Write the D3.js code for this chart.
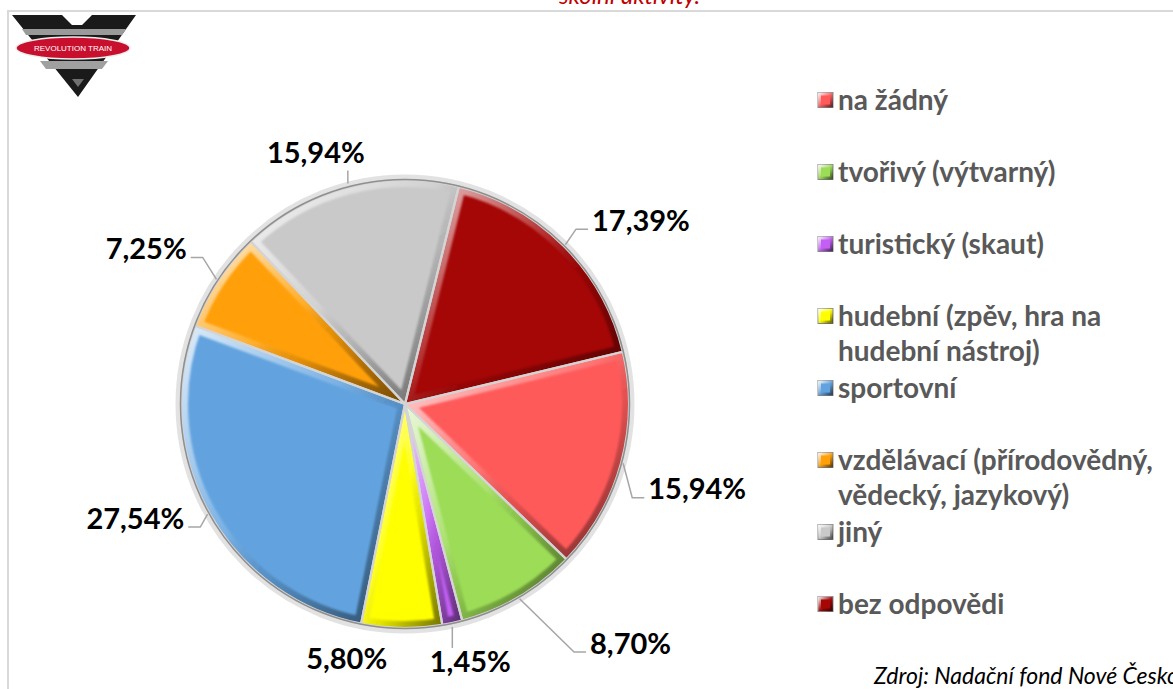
<!DOCTYPE html>
<html><head><meta charset="utf-8">
<script src="https://cdn.jsdelivr.net/npm/d3@7"></script>
<style>body{margin:0;background:#fff;overflow:hidden}svg{display:block}</style>
</head><body>
<svg id="c" width="1173" height="689"></svg>
<script>
// ---- data ----
const categories = ["na žádný","tvořivý (výtvarný)","turistický (skaut)","hudební (zpěv, hra na hudební nástroj)","sportovní","vzdělávací (přírodovědný, vědecký, jazykový)","jiný","bez odpovědi"];
const values = [15.94, 8.70, 1.45, 5.80, 27.54, 7.25, 15.94, 17.39];
const colors = ["#ff5a5a","#9cdc56","#c35ff4","#ffff00","#62a3df","#ffa00a","#c9c9c9","#a50606"];
const titleText = "školní aktivity.";
const sourceText = "Zdroj: Nadační fond Nové Česko";
const logoText = "REVOLUTION TRAIN";

// ---- layout ----
const W = 1173, H = 689;
const cx = 405, cy = 404, R = 224;
const firstSliceAngle = 76.5; // degrees, clockwise from 12 o'clock
// label offsets relative to the slice's outer mid-point, plus leader style
const labelLayout = [
  {dx:76, dy:26, leader:"h"},
  {dx:112, dy:46, leader:"h"},
  {dx:18, dy:39, leader:"v"},
  {dx:-55, dy:31, leader:"none"},
  {dx:-74, dy:5, leader:"h"},
  {dx:-72, dy:-32, leader:"h"},
  {dx:-32, dy:-35, leader:"v"},
  {dx:77, dy:-26, leader:"h"}
];

const svg = d3.select("#c");
const defs = svg.append("defs");

// bevel gradient
const bev = defs.append("linearGradient").attr("id","bevel").attr("x1",0).attr("y1",0).attr("x2",1).attr("y2",1);
bev.append("stop").attr("offset","0%").attr("stop-color","#fff").attr("stop-opacity",0.8);
bev.append("stop").attr("offset","45%").attr("stop-color","#fff").attr("stop-opacity",0.15);
bev.append("stop").attr("offset","60%").attr("stop-color","#000").attr("stop-opacity",0.1);
bev.append("stop").attr("offset","100%").attr("stop-color","#000").attr("stop-opacity",0.55);
defs.append("filter").attr("id","soft").append("feGaussianBlur").attr("stdDeviation",1.2);

// frame
svg.append("path").attr("d",`M8,${H+5} L8,11 L${W+5},11`).attr("fill","none").attr("stroke","#d9d9d9").attr("stroke-width",2);

// title (cut off at top, as in the reference)
svg.append("text").attr("x",700).attr("y",4).attr("text-anchor","end")
  .attr("font-family","Lato, 'Open Sans', sans-serif").attr("font-style","italic")
  .attr("font-size",24).attr("fill","#c00000").text(titleText);

// logo
const logo = svg.append("g").attr("transform","translate(12,15)");
logo.append("path").attr("d","M0,0 L50,0 L60,10 L70,10 L80,0 L124,0 L66,82 Z").attr("fill","#1a1a1a");
logo.append("path").attr("d","M10,14 L114,14 L110,20 L14,20 Z").attr("fill","#9a9a9a");
logo.append("path").attr("d","M28,46 L96,46 L90,54 L34,54 Z").attr("fill","#a0a0a0");
logo.append("path").attr("d","M60,64 L66,72 L72,64 Z").attr("fill","#707070");
logo.append("ellipse").attr("cx",61).attr("cy",33).attr("rx",57).attr("ry",11).attr("fill","#c8102e").attr("stroke","#eee").attr("stroke-width",1.5);
logo.append("text").attr("x",61).attr("y",36).attr("text-anchor","middle").attr("font-family","'Liberation Sans', sans-serif").attr("font-size",8).attr("fill","#fff").text(logoText);

// pie
const pie = d3.pie().sort(null).value(d=>d)
  .startAngle(firstSliceAngle*Math.PI/180).endAngle(firstSliceAngle*Math.PI/180 + 2*Math.PI);
const arcs = pie(values);
const arc = d3.arc().innerRadius(0).outerRadius(R);
const g = svg.append("g").attr("transform",`translate(${cx},${cy})`);

g.append("circle").attr("r",R+3).attr("fill","none").attr("stroke","#e2e2e2").attr("stroke-width",5);

arcs.forEach((a,i)=>{
  const id = "clip"+i;
  defs.append("clipPath").attr("id",id).append("path").attr("d",arc(a)).attr("transform",`translate(${cx},${cy})`);
  const sg = svg.append("g").attr("clip-path",`url(#${id})`).append("g").attr("transform",`translate(${cx},${cy})`);
  sg.append("path").attr("d",arc(a)).attr("fill",colors[i]);
  sg.append("path").attr("d",arc(a)).attr("fill","none").attr("stroke","url(#bevel)").attr("stroke-width",14).attr("filter","url(#soft)");
});
// separators & outline
const og = svg.append("g").attr("transform",`translate(${cx},${cy})`);
og.selectAll("path.sep").data(arcs).join("path").attr("class","sep").attr("d",arc)
  .attr("fill","none").attr("stroke","#d4d4d4").attr("stroke-width",2.2).attr("stroke-linejoin","round");
og.append("circle").attr("r",R+0.5).attr("fill","none").attr("stroke","#8f8f8f").attr("stroke-width",1.5);

// data labels
const fmt = v => d3.format(".2f")(v).replace(".",",") + "%";
const lg = svg.append("g");
arcs.forEach((a,i)=>{
  const mid = (a.startAngle + a.endAngle)/2;
  const px = cx + R*Math.sin(mid), py = cy - R*Math.cos(mid);
  const L = labelLayout[i];
  const lx = px + L.dx, ly = py + L.dy;
  const t = lg.append("text").attr("x",lx).attr("y",ly).attr("dy","0.36em").attr("text-anchor","middle")
    .attr("font-family","Lato, sans-serif").attr("font-weight",700).attr("font-size",29).attr("fill","#000").text(fmt(values[i]));
  const w = t.node().getComputedTextLength();
  let pts = null;
  if (L.leader === "h") {
    const side = L.dx > 0 ? 1 : -1;
    const ax = lx - side*(w/2 + 4), ay = ly + 9;
    pts = [[px + 2*Math.sin(mid), py - 2*Math.cos(mid)],[ax - side*12, ay],[ax, ay]];
  } else if (L.leader === "v") {
    const down = L.dy > 0;
    const sx = px, sy = py + (down ? 4 : -4);
    pts = [[sx, sy],[sx, down ? ly - 14 : ly + 18]];
  }
  if (pts) lg.append("path").attr("d",d3.line()(pts)).attr("fill","none").attr("stroke","#a6a6a6").attr("stroke-width",1.5);
});

// legend
const ly0 = d3.scaleLinear().domain([0,1]).range([100,172]);
const leg = svg.append("g");
const maxW = 328;
categories.forEach((c,i)=>{
  const y = ly0(i);
  leg.append("rect").attr("x",818).attr("y",y-7.5).attr("width",15).attr("height",15).attr("fill",colors[i]).attr("stroke","#8c8c8c").attr("stroke-width",1);
  leg.append("rect").attr("x",819.5).attr("y",y-6).attr("width",12).attr("height",12).attr("fill","none").attr("stroke","url(#bevel)").attr("stroke-width",3);
  const t = leg.append("text").attr("x",838).attr("y",y)
    .attr("font-family","Lato, sans-serif").attr("font-weight",700).attr("font-size",28).attr("fill","#595959");
  const words = c.split(" ");
  let line = [];
  let ts = t.append("tspan").attr("x",838).attr("dy","0.36em");
  words.forEach(wd=>{
    line.push(wd);
    ts.text(line.join(" "));
    if (ts.node().getComputedTextLength() > maxW && line.length > 1) {
      line.pop(); ts.text(line.join(" "));
      line = [wd];
      ts = t.append("tspan").attr("x",838).attr("dy","1.25em").text(wd);
    }
  });
});

// source
svg.append("text").attr("x",874).attr("y",684).attr("font-family","Lato, sans-serif").attr("font-style","italic")
  .attr("font-size",23).attr("fill","#000").text(sourceText);
</script>
</body></html>
